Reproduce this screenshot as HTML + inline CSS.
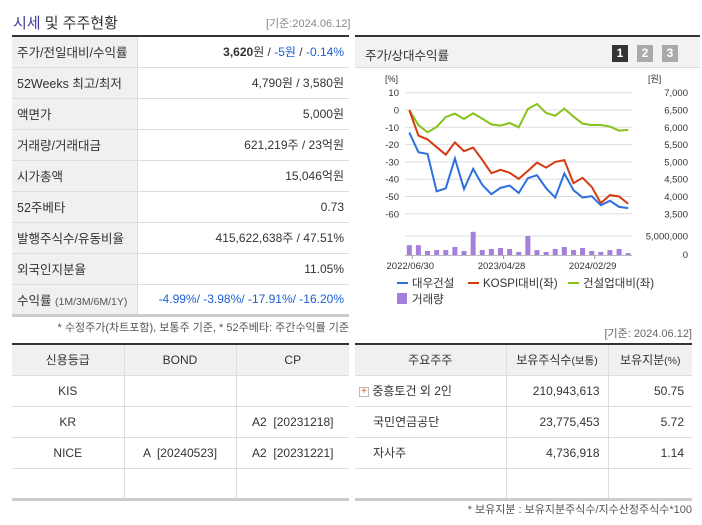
<!DOCTYPE html>
<html><head><meta charset="utf-8">
<style>
*{margin:0;padding:0;box-sizing:border-box}
body{width:702px;height:525px;background:#fff;position:relative;overflow:hidden;font-family:"Liberation Sans","Noto Sans CJK KR",sans-serif;font-size:12px;color:#333}
.abs{position:absolute}
table{border-collapse:collapse;position:absolute;table-layout:fixed}
td,th{font-weight:normal;height:31px;border-bottom:1px solid #ddd;white-space:nowrap}
.t1 td.l{background:#f0f0f0;padding-left:5px;border-right:1px solid #ddd;font-size:12.5px}
.t1 td.v{text-align:right;padding-right:5px}
.blue{color:#1a5fd6}
.t2 th{background:#f0f0f0;text-align:center;border-right:1px solid #ddd}
.t2 td{text-align:center;border-right:1px solid #ddd}
.t2 td:last-child,.t2 th:last-child{border-right:none}
.t3 th{background:#f0f0f0;text-align:center;border-right:1px solid #ddd}
.t3 td{border-right:1px solid #ddd;text-align:right;padding-right:8px}
.t3 td:last-child,.t3 th:last-child{border-right:none}
</style></head><body>
<div class="abs" style="left:13px;top:12px;font-size:15px;color:#333"><span style="color:#3b3b9a">시세</span> 및 주주현황</div>
<div class="abs" style="left:266px;top:15px;font-size:11px;color:#888">[기준:2024.06.12]</div>
<table class="t1" style="left:12px;top:35px;width:337px;border-top:2px solid #333;border-bottom:3px solid #ccc">
<colgroup><col style="width:125px"><col></colgroup>
<tr><td class="l">주가/전일대비/수익률</td><td class="v"><b>3,620</b>원 / <span class="blue">-5원</span> / <span class="blue">-0.14%</span></td></tr>
<tr><td class="l">52Weeks 최고/최저</td><td class="v">4,790원 / 3,580원</td></tr>
<tr><td class="l">액면가</td><td class="v">5,000원</td></tr>
<tr><td class="l">거래량/거래대금</td><td class="v">621,219주 / 23억원</td></tr>
<tr><td class="l">시가총액</td><td class="v">15,046억원</td></tr>
<tr><td class="l">52주베타</td><td class="v">0.73</td></tr>
<tr><td class="l">발행주식수/유동비율</td><td class="v">415,622,638주 / 47.51%</td></tr>
<tr><td class="l">외국인지분율</td><td class="v">11.05%</td></tr>
<tr><td class="l">수익률 <span style="font-size:10.5px;color:#555">(1M/3M/6M/1Y)</span></td><td class="v blue">-4.99%/ -3.98%/ -17.91%/ -16.20%</td></tr>
</table>
<div class="abs" style="left:12px;width:337px;text-align:right;top:319px;font-size:11px;color:#555">* 수정주가(차트포함), 보통주 기준, * 52주베타: 주간수익률 기준</div>

<div class="abs" style="left:355px;top:35px;width:345px;height:275px;border-top:2px solid #333">
<div style="height:31px;background:#f2f2f2;border-bottom:1px solid #ddd;padding:8px 0 0 10px;font-size:12.5px">주가/상대수익률</div>
<div class="abs" style="left:257px;top:8px;width:16px;height:17px;background:#333;color:#fff;font-weight:bold;text-align:center;line-height:17px">1</div>
<div class="abs" style="left:282px;top:8px;width:16px;height:17px;background:#aaa;color:#fff;font-weight:bold;text-align:center;line-height:17px">2</div>
<div class="abs" style="left:307px;top:8px;width:16px;height:17px;background:#aaa;color:#fff;font-weight:bold;text-align:center;line-height:17px">3</div>
</div>
<svg id="chart" class="abs" style="left:0;top:0" width="702" height="525"></svg>

<div class="abs" style="left:560px;top:325px;width:132px;text-align:right;font-size:11px;color:#666">[기준: 2024.06.12]</div>

<table class="t2" style="left:12px;top:343px;width:337px;border-top:2px solid #333;border-bottom:3px solid #ccc">
<colgroup><col style="width:112px"><col style="width:112px"><col></colgroup>
<tr><th>신용등급</th><th>BOND</th><th>CP</th></tr>
<tr><td>KIS</td><td></td><td></td></tr>
<tr><td>KR</td><td></td><td>A2 &nbsp;[20231218]</td></tr>
<tr><td>NICE</td><td>A &nbsp;[20240523]</td><td>A2 &nbsp;[20231221]</td></tr>
<tr><td></td><td></td><td></td></tr>
</table>
<table class="t3" style="left:355px;top:343px;width:337px;border-top:2px solid #333;border-bottom:3px solid #ccc">
<colgroup><col style="width:151px"><col style="width:102px"><col></colgroup>
<tr><th>주요주주</th><th>보유주식수<span style="font-size:10.5px">(보통)</span></th><th>보유지분<span style="font-size:10.5px">(%)</span></th></tr>
<tr><td style="text-align:left;padding-left:4px"><span style="display:inline-block;width:10px;height:10px;border:1px solid #bbb;color:#e05a00;font-size:10px;line-height:8px;text-align:center;vertical-align:middle">+</span> 중흥토건 외 2인</td><td>210,943,613</td><td>50.75</td></tr>
<tr><td style="text-align:left;padding-left:18px">국민연금공단</td><td>23,775,453</td><td>5.72</td></tr>
<tr><td style="text-align:left;padding-left:18px">자사주</td><td>4,736,918</td><td>1.14</td></tr>
<tr><td></td><td></td><td></td></tr>
</table>
<div class="abs" style="left:355px;width:337px;text-align:right;top:501px;font-size:11px;color:#555">* 보유지분 : 보유지분주식수/지수산정주식수*100</div>

<script>
const categories=["2022/06/30","","","","","","","","","","2023/04/28","","","","","","","","","","2024/02/29","","","",""];
const stockPct=[-13,-24.4,-25.4,-47,-45.3,-28,-45.7,-34,-43.3,-48.7,-45,-43.7,-48,-39.4,-37.7,-45.2,-50.6,-36.7,-46.3,-50.6,-49.8,-55,-52.5,-56,-56.7];
const kospiPct=[0,-14.8,-17,-21.5,-25.8,-18.7,-23.8,-21.7,-28.8,-36.5,-34.6,-36.3,-39.8,-35.2,-30.4,-33.3,-30,-29,-42.3,-39.2,-44.4,-53.8,-49.2,-50,-54.2];
const sectorPct=[0,-8.7,-12.9,-9.8,-4,-2.1,-5.2,-1.9,-5,-8.3,-9,-7.5,-10,0.6,3.5,-1.7,-3.3,0.8,-3.8,-7.9,-8.7,-8.7,-9.6,-11.9,-11.5];
const volume=[2.6,2.6,1.05,1.3,1.3,2.1,1.05,6.1,1.3,1.6,1.85,1.6,0.8,5.0,1.3,0.8,1.6,2.1,1.3,1.85,1.05,0.8,1.3,1.6,0.5];
const leftTicks=[10,0,-10,-20,-30,-40,-50,-60];
const rightTicks=["7,000","6,500","6,000","5,500","5,000","4,500","4,000","3,500"];
const xTickIdx=[0,10,20];
const xTickLabels=["2022/06/30","2023/04/28","2024/02/29"];

const svg=document.getElementById('chart');
const NS='http://www.w3.org/2000/svg';
function mk(t,a,txt){const e=document.createElementNS(NS,t);for(const k in a)e.setAttribute(k,a[k]);if(txt!=null)e.textContent=txt;svg.appendChild(e);return e;}
const X=i=>409.3+i*9.12;
const Y=v=>110-v*1.73;
const VY=m=>255-m*3.8;
const gx0=405,gx1=632;
mk('text',{x:385,y:82,'font-size':9,fill:'#333'},'[%]');
mk('text',{x:648,y:82,'font-size':9,fill:'#333'},'[원]');
leftTicks.forEach((t,i)=>{
 const y=Y(t);
 const g=mk('line',{x1:gx0,x2:gx1,y1:y,y2:y,stroke:'#ddd'});
 
 const l=mk('text',{x:399,y:y+3.5,'font-size':9.5,fill:'#333','text-anchor':'end'},t);
 
 const r=mk('text',{x:688,y:y+3.5,'font-size':9.5,fill:'#333','text-anchor':'end'},rightTicks[i]);
 
});
mk('line',{x1:gx0,x2:gx1,y1:VY(5),y2:VY(5),stroke:'#ddd'});
mk('text',{x:688,y:VY(5)+3.5,'font-size':9.5,fill:'#333','text-anchor':'end'},'5,000,000');
mk('text',{x:688,y:258,'font-size':9.5,fill:'#333','text-anchor':'end'},'0');
volume.forEach((v,i)=>{
 const b=mk('rect',{x:X(i)-2.5,y:VY(v),width:5,height:255-VY(v),fill:'#a57fdc'});
 
});
mk('line',{x1:gx0,x2:gx1,y1:255.5,y2:255.5,stroke:'#bbb'});
xTickIdx.forEach((idx,j)=>{
 mk('line',{x1:X(idx)+3,x2:X(idx)+3,y1:255,y2:259,stroke:'#999'});
 const t=mk('text',{x:X(idx)+1,y:269,'font-size':9.5,fill:'#333','text-anchor':'middle'},xTickLabels[j]);
 
});
function line(arr,c,name){
 const p=mk('polyline',{points:arr.map((v,i)=>X(i)+','+Y(v)).join(' '),fill:'none',stroke:c,'stroke-width':2});
 
}
line(sectorPct,'#86c21a','sector-relative-line');
line(kospiPct,'#d63a10','kospi-relative-line');
line(stockPct,'#2d6fe0','stock-line');
function leg(x,y,c,txt,name){
 const l=mk('line',{x1:x,x2:x+11,y1:y,y2:y,stroke:c,'stroke-width':2});
 const t=mk('text',{x:x+15,y:y+4,'font-size':11.5,fill:'#333'},txt);
 
}
leg(397,283,'#2d6fe0','대우건설','legend-stock');
leg(468,283,'#d63a10','KOSPI대비(좌)','legend-kospi');
leg(568,283,'#86c21a','건설업대비(좌)','legend-sector');
const sq=mk('rect',{x:397,y:293,width:10,height:11,fill:'#a57fdc'});
const vt=mk('text',{x:412,y:303,'font-size':11.5,fill:'#333'},'거래량');

</script>
</body></html>
